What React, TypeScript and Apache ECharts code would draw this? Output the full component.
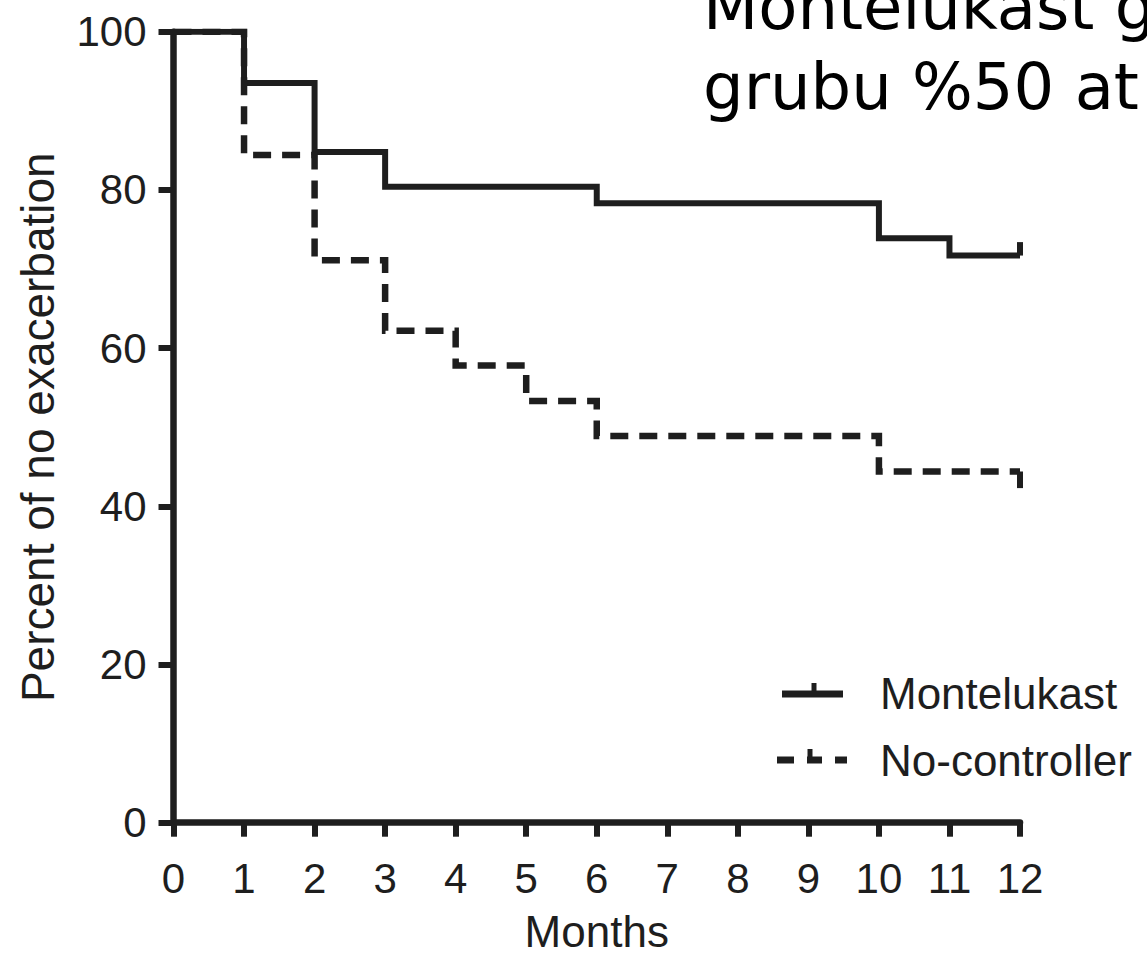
import React, { useEffect, useRef } from "react";
import * as echarts from "echarts";

const months = [0, 1, 2, 3, 4, 5, 6, 7, 8, 9, 10, 11, 12];
const yTicks = [0, 20, 40, 60, 80, 100];

// Kaplan-Meier steps: [month, percent]
const montelukast: [number, number][] = [
  [0, 100], [1, 93.5], [2, 84.8], [3, 80.4], [6, 78.3], [10, 73.9], [11, 71.7], [12, 71.7],
];
const noController: [number, number][] = [
  [0, 100], [1, 84.4], [2, 71.1], [3, 62.2], [4, 57.8], [5, 53.3], [6, 48.9], [10, 44.4], [12, 44.4],
];
// censor marks at end of follow-up
const montelukastCensor: [number, number][] = [[12, 71.7], [12, 73.4]];
const noControllerCensor: [number, number][] = [[12, 44.4], [12, 42.3]];

const seriesNames = ["Montelukast", "No-controller"];
const titleLines = ["Montelukast g", "grubu %50 at"];

const INK = "#1e1e1e";
const FONT = "'Liberation Sans', Arial, Helvetica, sans-serif";

export default function App() {
  const ref = useRef<HTMLDivElement>(null);
  useEffect(() => {
    if (!ref.current) return;
    const chart = echarts.init(ref.current, undefined, { renderer: "svg" });
    chart.setOption({
      animation: false,
      backgroundColor: "#ffffff",
      grid: { left: 173.5, right: 127, top: 31.7, bottom: 132.3, outerBoundsMode: "none", containLabel: false },
      xAxis: {
        type: "value",
        min: 0,
        max: 12,
        interval: 1,
        name: "Months",
        nameLocation: "middle",
        nameGap: 89,
        nameTextStyle: { fontFamily: FONT, fontSize: 44, color: INK, lineHeight: 40 },
        axisLine: { show: true, onZero: false, lineStyle: { color: INK, width: 6.5 } },
        axisTick: { show: true, length: 14, lineStyle: { color: INK, width: 6 } },
        axisLabel: {
          fontFamily: FONT, fontSize: 42, color: INK, margin: 35,
          formatter: (v: number) => (months.includes(v) ? String(v) : ""),
        },
        splitLine: { show: false },
      },
      yAxis: {
        type: "value",
        min: 0,
        max: 100,
        interval: 20,
        name: "Percent of no exacerbation",
        nameLocation: "middle",
        nameGap: 113,
        nameTextStyle: { fontFamily: FONT, fontSize: 46, color: INK },
        axisLine: { show: true, onZero: false, lineStyle: { color: INK, width: 6.5 } },
        axisTick: { show: true, length: 15, lineStyle: { color: INK, width: 6 } },
        axisLabel: {
          fontFamily: FONT, fontSize: 42, color: INK, margin: 27,
          formatter: (v: number) => (yTicks.includes(v) ? String(v) : ""),
        },
        splitLine: { show: false },
      },
      series: [
        {
          name: seriesNames[0],
          type: "line",
          step: "end",
          data: montelukast,
          showSymbol: false,
          lineStyle: { color: INK, width: 6, cap: "butt", join: "miter" },
        },
        {
          name: seriesNames[1],
          type: "line",
          step: "end",
          data: noController,
          showSymbol: false,
          lineStyle: { color: INK, width: 6.5, type: [18, 11], cap: "butt", join: "miter" },
        },
        {
          name: seriesNames[0] + " censored",
          type: "line",
          data: montelukastCensor,
          showSymbol: false,
          clip: false,
          lineStyle: { color: INK, width: 6 },
        },
        {
          name: seriesNames[1] + " censored",
          type: "line",
          data: noControllerCensor,
          showSymbol: false,
          clip: false,
          lineStyle: { color: INK, width: 6 },
        },
      ],
      graphic: [
        // title fragment (cut off at the top and right edges, as in the source)
        {
          type: "text", left: 703, top: -32,
          style: { text: titleLines[0], fontFamily: "'DejaVu Sans', Verdana, sans-serif", fontSize: 64, fill: "#000", lineHeight: 77 },
        },
        {
          type: "text", left: 703, top: 48,
          style: { text: titleLines[1], fontFamily: "'DejaVu Sans', Verdana, sans-serif", fontSize: 64, fill: "#000", lineHeight: 77 },
        },
        // legend: Montelukast
        { type: "line", shape: { x1: 782, y1: 694, x2: 843, y2: 694 }, style: { stroke: INK, lineWidth: 7 } },
        { type: "line", shape: { x1: 814, y1: 683, x2: 814, y2: 694 }, style: { stroke: INK, lineWidth: 5 } },
        {
          type: "text", left: 880, top: 693 - 26,
          style: { text: seriesNames[0], fontFamily: FONT, fontSize: 44, fill: INK, lineHeight: 52 },
        },
        // legend: No-controller
        { type: "line", shape: { x1: 777, y1: 760, x2: 794, y2: 760 }, style: { stroke: INK, lineWidth: 7 } },
        { type: "line", shape: { x1: 807, y1: 760, x2: 822, y2: 760 }, style: { stroke: INK, lineWidth: 7 } },
        { type: "line", shape: { x1: 810, y1: 749, x2: 810, y2: 760 }, style: { stroke: INK, lineWidth: 5 } },
        { type: "line", shape: { x1: 835, y1: 760, x2: 847, y2: 760 }, style: { stroke: INK, lineWidth: 7 } },
        {
          type: "text", left: 880, top: 760 - 26,
          style: { text: seriesNames[1], fontFamily: FONT, fontSize: 44, fill: INK, lineHeight: 52 },
        },
      ],
    });
    return () => chart.dispose();
  }, []);
  return (
    <div
      ref={ref}
      style={{ position: "fixed", left: 0, top: 0, width: 1147, height: 955, background: "#fff" }}
    />
  );
}
